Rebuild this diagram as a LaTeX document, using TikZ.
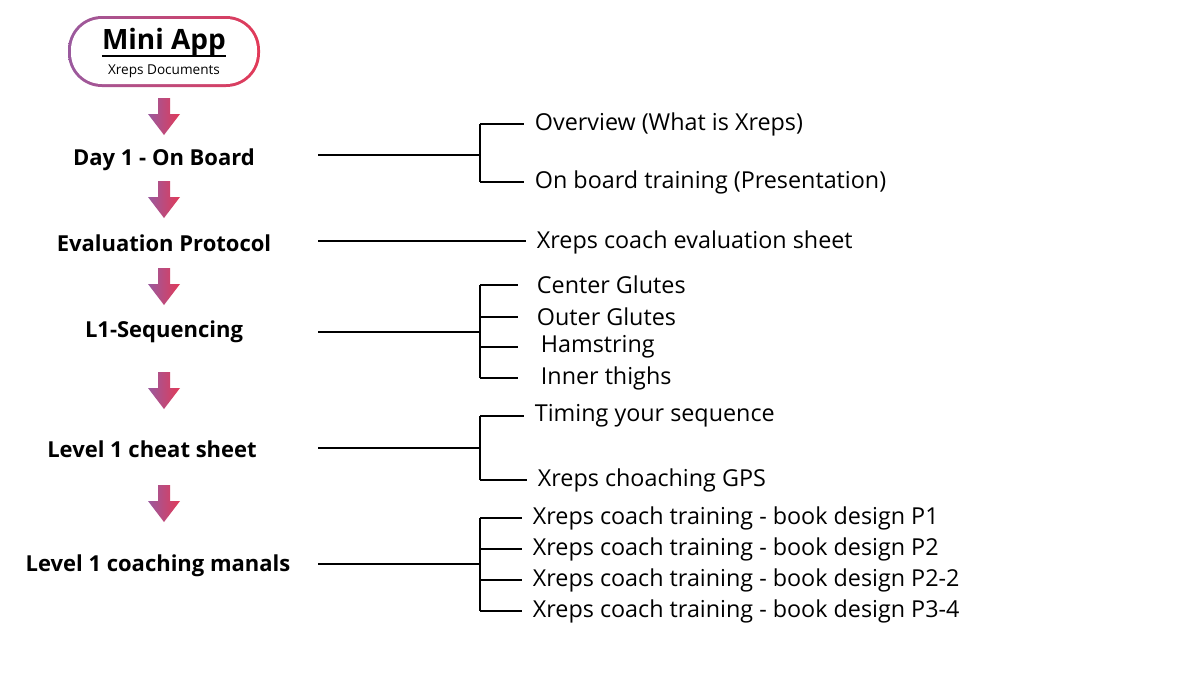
\documentclass[tikz,border=0pt]{standalone}
\usepackage{fontspec}
\setmainfont{Open Sans}
\definecolor{gpurple}{HTML}{9A5A9E}
\definecolor{gred}{HTML}{E23A58}
\begin{document}
\begin{tikzpicture}[x=0.75pt,y=-0.75pt,
  lbl/.style={font=\bfseries\fontsize{16.5}{19}\selectfont, inner sep=0pt},
  item/.style={font=\fontsize{17.5}{20}\selectfont, anchor=west, inner xsep=8pt, inner ysep=0pt},
  ln/.style={line width=2.2pt},
  darrow/.pic={\shade[left color=gpurple,right color=gred] (-6,0) -- (6,0) -- (6,16) -- (16,16) -- (0,37) -- (-16,16) -- (-6,16) -- cycle;}]
\useasboundingbox[fill=white] (0,0) rectangle (1200,675);
% title box
\shade[left color=gpurple,right color=gred,rounded corners=34pt*0.75] (68,16) rectangle (260,87);
\fill[white,rounded corners=31pt*0.75] (71,19) rectangle (257,84);
\node[font=\bfseries\fontsize{21}{24}\selectfont, inner sep=0pt, anchor=base] (mini) at (164,49) {Mini App};
\draw[line width=1.6pt] ([yshift=-5pt]mini.base west) -- ([yshift=-5pt]mini.base east);
\node[font=\fontsize{10.2}{12}\selectfont, inner sep=0pt] (docs) at (164,71) {Xreps Documents};
% arrows
\pic at (164,98) {darrow};
\pic at (164,181) {darrow};
\pic at (164,268) {darrow};
\pic at (164,372) {darrow};
\pic at (164,485) {darrow};
% labels
\node[lbl] (d1) at (164,160) {Day 1 - On Board};
\node[lbl] (ev) at (164,243) {Evaluation Protocol};
\node[lbl] (l1) at (164,332) {L1-Sequencing};
\node[lbl] (cs) at (152,449) {Level 1 cheat sheet};
\node[lbl] (cm) at (158,566) {Level 1 coaching manals};
% trunk coordinates
\coordinate (d1s) at (318,155);  \coordinate (d1b) at (480,155);
\coordinate (evs) at (318,241);
\coordinate (l1s) at (318,332);  \coordinate (l1b) at (480,332);
\coordinate (css) at (318,448);  \coordinate (csb) at (480,448);
\coordinate (cms) at (318,564);  \coordinate (cmb) at (480,564);
% items
\node[item] (o1) at (524,124) {Overview (What is Xreps)};
\node[item] (o2) at (524,182) {On board training (Presentation)};
\node[item] (e1) at (526,242) {Xreps coach evaluation sheet};
\node[item] (s1) at (526,285) {Center Glutes};
\node[item] (s2) at (526,317) {Outer Glutes};
\node[item] (s3) at (530,347) {Hamstring};
\node[item] (s4) at (530,378) {Inner thighs};
\node[item] (c1) at (524,416) {Timing your sequence};
\node[item] (c2) at (527,480) {Xreps choaching GPS};
\node[item] (m1) at (522,518) {Xreps coach training - book design P1};
\node[item] (m2) at (522,549) {Xreps coach training - book design P2};
\node[item] (m3) at (522,580) {Xreps coach training - book design P2-2};
\node[item] (m4) at (522,611) {Xreps coach training - book design P3-4};
% connectors
\draw[ln] (d1s) -- (d1b);
\draw[ln] (d1b |- o1.west) -- (d1b |- o2.west);
\foreach \n in {o1,o2} \draw[ln] (d1b |- \n.west) -- (\n.west);
\draw[ln] (evs) -- (evs -| e1.west);
\draw[ln] (l1s) -- (l1b);
\draw[ln] (l1b |- s1.west) -- (l1b |- s4.west);
\foreach \n in {s1,s2,s3,s4} \draw[ln] (l1b |- \n.west) -- ([xshift=-6pt]\n.west -| s1.west);
\draw[ln] (css) -- (csb);
\draw[ln] (csb |- c1.west) -- (csb |- c2.west);
\foreach \n in {c1,c2} \draw[ln] (csb |- \n.west) -- (\n.west);
\draw[ln] (cms) -- (cmb);
\draw[ln] (cmb |- m1.west) -- (cmb |- m4.west);
\foreach \n in {m1,m2,m3,m4} \draw[ln] (cmb |- \n.west) -- (\n.west);
\end{tikzpicture}
\end{document}
